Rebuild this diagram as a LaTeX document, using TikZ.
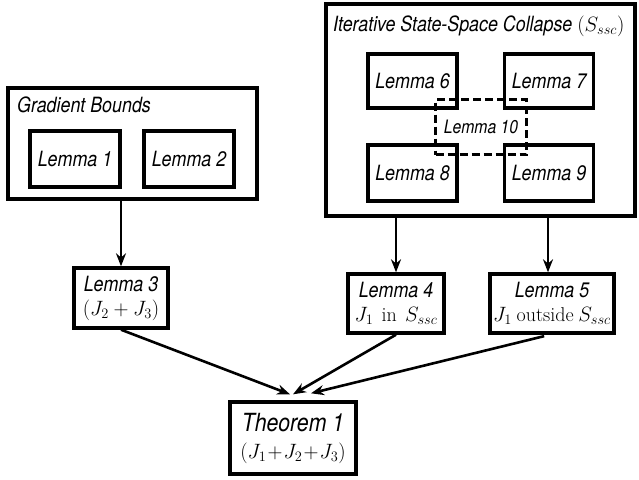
\documentclass[tikz,border=0pt]{standalone}
\usepackage{fontspec}
\newfontfamily\hv[FakeStretch=0.85]{TeX Gyre Heros}
\usetikzlibrary{arrows.meta,calc}
\begin{document}
\begin{tikzpicture}[x=1pt,y=-1pt,
  box/.style={draw,line width=3.4pt,inner sep=0pt,align=center},
  lem/.style={box,font=\hv\itshape\fontsize{21}{24}\selectfont},
  grp/.style={draw,line width=3.6pt,inner sep=0pt},
  ttl/.style={anchor=base west,inner sep=0pt,font=\hv\itshape\fontsize{21}{24}\selectfont},
  arr/.style={-{Stealth[length=13pt,width=10pt]},line width=2.6pt},
  dsh/.style={draw,line width=2.2pt,dash pattern=on 8pt off 4pt,inner sep=0pt,
    font=\hv\itshape\fontsize{18.5}{21}\selectfont}]
\useasboundingbox (0,0) rectangle (639,479);
\fill[white] (0,0) rectangle (639,479);

% Gradient Bounds group
\node[grp,minimum width=249pt,minimum height=111pt] (gb) at (132.5,143.5) {};
\node[ttl] (gbt) at (17,112) {Gradient Bounds};
\node[lem,minimum width=90pt,minimum height=56pt] (l1) at (75,159) {Lemma 1};
\node[lem,minimum width=90pt,minimum height=56pt] (l2) at (189,159) {Lemma 2};

% SSC group
\node[grp,minimum width=309pt,minimum height=212pt] (ssc) at (480.5,110) {};
\node[ttl] (ssct) at (333,31) {Iterative State-Space Collapse \normalfont\fontsize{20}{22}\selectfont$(S_{ssc})$};
\node[lem,minimum width=89pt,minimum height=54pt] (l6) at (412.5,81) {Lemma 6};
\node[lem,minimum width=89pt,minimum height=54pt] (l7) at (549,81) {Lemma 7};
\node[lem,minimum width=89pt,minimum height=56pt] (l8) at (412.5,173) {Lemma 8};
\node[lem,minimum width=89pt,minimum height=56pt] (l9) at (549,173) {Lemma 9};
\node[dsh,minimum width=91pt,minimum height=55pt] (l10) at (481,127) {Lemma 10};

% middle lemmas
\node[lem,minimum width=94pt,minimum height=60pt] (l3) at (121,298)
  {Lemma 3\\\fontsize{20}{22}\selectfont$(J_2+J_3)$};
\node[lem,minimum width=96pt,minimum height=59pt] (l4) at (396,303.5)
  {Lemma 4\\\fontsize{20}{22}\selectfont$J_1\ \,\mathrm{in}\ \,S_{ssc}$};
\node[lem,minimum width=124pt,minimum height=59pt] (l5) at (552,303.5)
  {Lemma 5\\\fontsize{20}{22}\selectfont$J_1\ \mathrm{outside}\ S_{ssc}$};

% theorem
\node[box,font=\hv\itshape\fontsize{25}{27}\selectfont,minimum width=126pt,minimum height=72pt] (thm) at (293,438)
  {Theorem 1\\\fontsize{20.5}{22}\selectfont$(J_1\!+\!J_2\!+\!J_3)$};

\coordinate (t1) at ($(thm.north)+(-3,-6)$);
\coordinate (t2) at ($(thm.north)+(0,-6)$);
\coordinate (t3) at ($(thm.north)+(18,-7)$);

% arrows
\draw[arr] (l3.north |- gb.south) -- (l3.north);
\draw[arr] (l4.north |- ssc.south) -- (l4.north);
\draw[arr] ($(l5.north |- ssc.south)+(-4,0)$) -- ($(l5.north)+(-4,0)$);
\draw[arr] (l3.south) -- (t1);
\draw[arr] (l4.south) -- (t2);
\draw[arr,shorten <=6pt] ($(l5.south)+(-2,0)$) -- (t3);
\end{tikzpicture}
\end{document}
